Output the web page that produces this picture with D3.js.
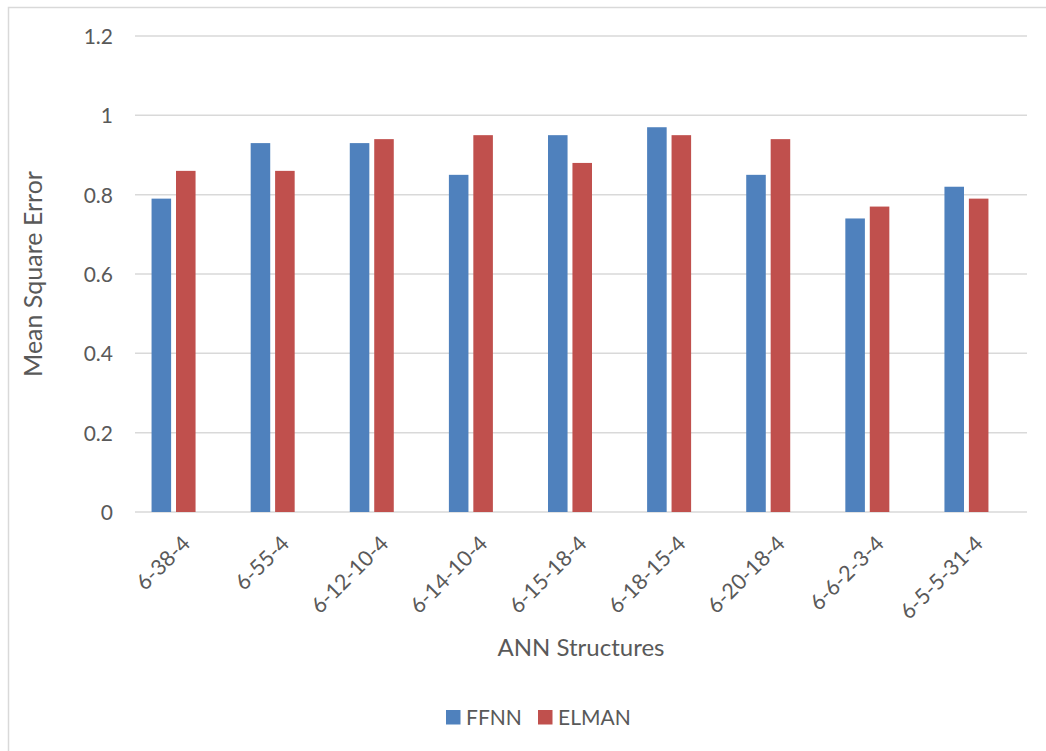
<!DOCTYPE html>
<html>
<head>
<meta charset="utf-8">
<script src="https://cdn.jsdelivr.net/npm/d3@7/dist/d3.min.js"></script>
<style>
  html, body { margin: 0; padding: 0; background: #fff; }
  svg text { font-family: Lato, "Open Sans", sans-serif; fill: #595959; }
</style>
</head>
<body>
<svg id="chart" width="1046" height="751"></svg>
<script>
// ANN structures compared by mean square error
const categories = ["6-38-4", "6-55-4", "6-12-10-4", "6-14-10-4", "6-15-18-4",
                    "6-18-15-4", "6-20-18-4", "6-6-2-3-4", "6-5-5-31-4"];
const seriesNames = ["FFNN", "ELMAN"];
const ffnn  = [0.79, 0.93, 0.93, 0.85, 0.95, 0.97, 0.85, 0.74, 0.82];
const elman = [0.86, 0.86, 0.94, 0.95, 0.88, 0.95, 0.94, 0.77, 0.79];
const yTicks = [0, 0.2, 0.4, 0.6, 0.8, 1, 1.2];
const colors = ["#4F81BD", "#C0504D"];

const svg = d3.select("#chart");

// outer chart frame
svg.append("rect")
  .attr("x", 8.5).attr("y", 7.5)
  .attr("width", 1060).attr("height", 760)
  .attr("fill", "none").attr("stroke", "#d9d9d9").attr("stroke-width", 1.5);

const plot = { left: 135, right: 1027, top: 36, bottom: 512 };

const y = d3.scaleLinear().domain([0, 1.2]).range([plot.bottom, plot.top]);
const x = d3.scaleBand().domain(categories)
  .range([plot.left - 11, plot.right - 11]);
const sub = d3.scaleBand().domain(seriesNames)
  .range([-22, 22]).paddingInner(0.2);

// horizontal gridlines
svg.append("g").selectAll("line").data(yTicks).join("line")
  .attr("x1", plot.left).attr("x2", plot.right)
  .attr("y1", d => y(d)).attr("y2", d => y(d))
  .attr("stroke", "#d9d9d9").attr("stroke-width", 1.5);

// y axis tick labels
const yAxis = d3.axisLeft(y).tickValues(yTicks).tickSize(0).tickPadding(0)
  .tickFormat(d => String(d));
svg.append("g").attr("transform", `translate(113,0)`).call(yAxis)
  .call(g => g.select(".domain").remove())
  .selectAll("text")
  .attr("font-size", 21).attr("font-family", "Lato, sans-serif")
  .attr("fill", "#595959").attr("dy", "0.35em");

// bars
const rows = categories.map((c, i) => ({ cat: c, vals: [ffnn[i], elman[i]] }));
const groups = svg.append("g").selectAll("g").data(rows).join("g")
  .attr("transform", d => `translate(${x(d.cat) + x.bandwidth() / 2},0)`);
groups.selectAll("rect")
  .data(d => d.vals.map((v, k) => ({ v, s: seriesNames[k], k })))
  .join("rect")
  .attr("x", d => sub(d.s))
  .attr("width", sub.bandwidth())
  .attr("y", d => y(d.v))
  .attr("height", d => y(0) - y(d.v))
  .attr("fill", d => colors[d.k]);

// category labels, rotated
const xAxis = d3.axisBottom(x).tickSize(0).tickPadding(0);
svg.append("g").attr("transform", `translate(0,${plot.bottom})`).call(xAxis)
  .call(g => g.select(".domain").remove())
  .selectAll("text")
  .attr("font-size", 21.5).attr("font-family", "Lato, sans-serif")
  .attr("fill", "#595959")
  .attr("text-anchor", "end")
  .attr("dy", null)
  .attr("y", 0)
  .attr("transform", "translate(18,33) rotate(-45)");

// axis titles
svg.append("text")
  .attr("x", (plot.left + plot.right) / 2).attr("y", 656)
  .attr("text-anchor", "middle").attr("font-size", 24)
  .text("ANN Structures");
svg.append("text")
  .attr("transform", `translate(42,${(plot.top + plot.bottom) / 2}) rotate(-90)`)
  .attr("text-anchor", "middle").attr("font-size", 25)
  .text("Mean Square Error");

// legend
const legend = svg.append("g");
const legendX = [446, 538];
seriesNames.forEach((name, k) => {
  legend.append("rect")
    .attr("x", legendX[k]).attr("y", 710)
    .attr("width", 14.5).attr("height", 14.5)
    .attr("fill", colors[k]);
  legend.append("text")
    .attr("x", legendX[k] + 20).attr("y", 725)
    .attr("font-size", 21)
    .text(name);
});
</script>
</body>
</html>
